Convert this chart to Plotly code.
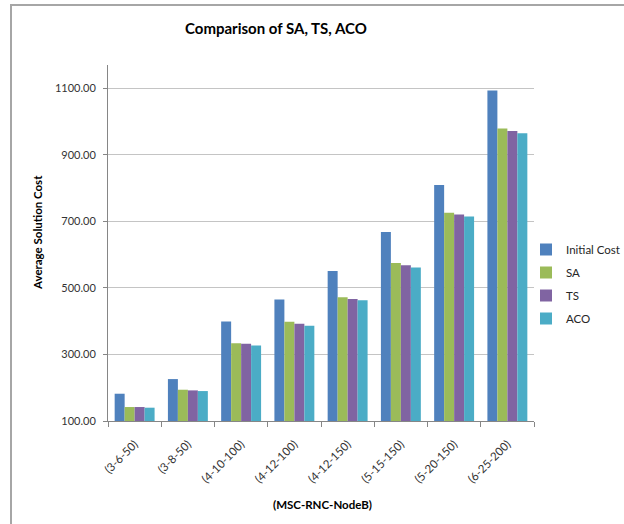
import plotly.graph_objects as go

categories = ["(3-6-50)", "(3-8-50)", "(4-10-100)", "(4-12-100)",
              "(4-12-150)", "(5-15-150)", "(5-20-150)", "(6-25-200)"]
initial_cost = [182, 226, 399, 465, 551, 668, 809, 1093]
sa = [142, 194, 334, 398, 472, 575, 726, 979]
ts = [142, 192, 332, 392, 467, 568, 721, 972]
aco = [140, 190, 327, 386, 463, 561, 715, 965]

series = [
    ("Initial Cost", initial_cost, "#4F81BD"),
    ("SA", sa, "#9BBB59"),
    ("TS", ts, "#8064A2"),
    ("ACO", aco, "#4BACC6"),
]

FONT = "Lato"
W, H = 624, 524
L, R, T, B = 108, 90, 65, 103
pw, ph = W - L - R, H - T - B


def px_to_paper_x(px):
    return (px - L) / pw


def px_to_paper_y(py):
    return (H - B - py) / ph


fig = go.Figure()
for name, vals, color in series:
    fig.add_trace(go.Bar(
        name=name, x=categories, y=vals, marker_color=color,
        marker_line_width=0, legendgroup=name,
    ))

fig.update_layout(
    width=W, height=H,
    margin=dict(l=L, r=R, t=T, b=B, autoexpand=False),
    paper_bgcolor="white", plot_bgcolor="white",
    barmode="group", bargap=0.25, bargroupgap=0,
    font=dict(family=FONT, size=11, color="#333333"),
    showlegend=True,
    legend=dict(
        x=px_to_paper_x(526), y=px_to_paper_y(235),
        xanchor="left", yanchor="top",
        font=dict(family=FONT, size=11.5, color="#262626"),
        itemwidth=30, traceorder="grouped", tracegroupgap=4,
        bgcolor="rgba(0,0,0,0)",
    ),
    annotations=[
        dict(text="<b>Comparison of SA, TS, ACO</b>", xref="paper", yref="paper",
             x=px_to_paper_x(276), y=px_to_paper_y(28), xanchor="center",
             yanchor="middle", showarrow=False,
             font=dict(family=FONT, size=15, color="#000000")),
        dict(text="<b>Average Solution Cost</b>", xref="paper", yref="paper",
             x=px_to_paper_x(37), y=px_to_paper_y(233), xanchor="center",
             yanchor="middle", showarrow=False, textangle=-90,
             font=dict(family=FONT, size=11.5, color="#000000")),
        dict(text="<b>(MSC-RNC-NodeB)</b>", xref="paper", yref="paper",
             x=px_to_paper_x(322), y=px_to_paper_y(504), xanchor="center",
             yanchor="middle", showarrow=False,
             font=dict(family=FONT, size=11.5, color="#000000")),
    ],
    shapes=[
        # chart frame: left and top edges
        dict(type="line", xref="paper", yref="paper",
             x0=px_to_paper_x(11), x1=px_to_paper_x(11),
             y0=px_to_paper_y(5), y1=px_to_paper_y(530),
             line=dict(color="#A6A6A6", width=2)),
        dict(type="line", xref="paper", yref="paper",
             x0=px_to_paper_x(10), x1=px_to_paper_x(630),
             y0=px_to_paper_y(5), y1=px_to_paper_y(5),
             line=dict(color="#A6A6A6", width=2)),
    ],
)

fig.update_yaxes(
    range=[100, 1170], tickvals=[100, 300, 500, 700, 900, 1100],
    tickformat=".2f", showgrid=True, gridcolor="#C4C4C4", gridwidth=1.3,
    showline=True, linecolor="#868686", linewidth=1,
    ticks="outside", ticklen=4, tickcolor="#868686", ticklabelstandoff=5,
    zeroline=False, tickfont=dict(family=FONT, size=11, color="#333333"),
)
fig.update_xaxes(
    type="category", showline=True, linecolor="#868686", linewidth=1,
    ticks="outside", ticklen=5, tickcolor="#868686", tickson="boundaries",
    tickangle=-45, showgrid=False, ticklabelstandoff=11,
    tickfont=dict(family=FONT, size=11.5, color="#333333"),
)

fig.write_html("out.html")
